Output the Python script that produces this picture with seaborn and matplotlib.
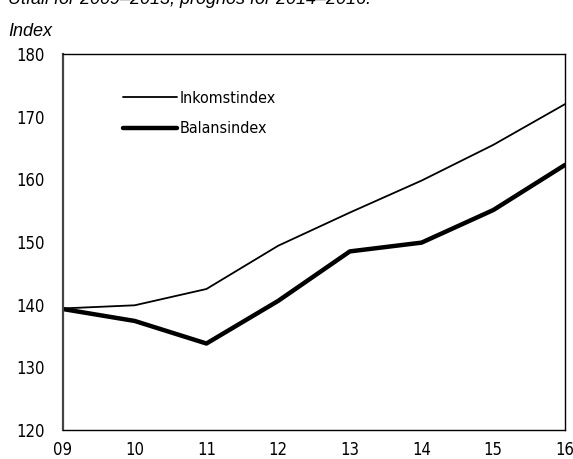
import matplotlib
matplotlib.use("Agg")
import matplotlib.pyplot as plt
import seaborn as sns
import pandas as pd

years = [2009, 2010, 2011, 2012, 2013, 2014, 2015, 2016]
tick_labels = ["09", "10", "11", "12", "13", "14", "15", "16"]
inkomstindex = [139.4, 139.9, 142.5, 149.4, 154.7, 159.8, 165.5, 172.0]
balansindex = [139.3, 137.4, 133.8, 140.6, 148.5, 149.9, 155.1, 162.3]

sns.set_style("white")
plt.rcParams["font.family"] = ["DejaVu Sans"]
plt.rcParams["font.stretch"] = "condensed"
plt.rcParams["text.color"] = "black"
plt.rcParams["xtick.color"] = "black"
plt.rcParams["ytick.color"] = "black"

df = pd.DataFrame({"year": years, "Inkomstindex": inkomstindex, "Balansindex": balansindex})

fig = plt.figure(figsize=(5.73, 4.59), dpi=100)
ax = fig.add_axes([63 / 573, 1 - 430 / 459, 502 / 573, 376 / 459])

sns.lineplot(data=df, x="year", y="Inkomstindex", ax=ax, color="black", lw=1.3, label="Inkomstindex")
sns.lineplot(data=df, x="year", y="Balansindex", ax=ax, color="black", lw=3.2, label="Balansindex")

ax.set_xlim(2009, 2016)
ax.set_ylim(120, 180)
ax.set_xticks(years)
ax.set_xticklabels(tick_labels)
ax.set_yticks(range(120, 181, 10))
ax.set_xlabel("")
ax.set_ylabel("")
for s in ax.spines.values():
    s.set_color("black")
    s.set_linewidth(1.0)
ax.spines["left"].set_color("#444444")
ax.spines["left"].set_linewidth(1.6)
ax.tick_params(axis="y", direction="in", length=5, width=1, labelsize=12, pad=13)
ax.tick_params(axis="x", direction="inout", length=10, width=1, labelsize=12, pad=3)

leg = ax.legend(loc="upper left", bbox_to_anchor=(0.09, 0.94), frameon=False,
                handlelength=3.4, handletextpad=0.2, labelspacing=0.95, fontsize=11.5)

fig.text(8 / 573, 1.0, "Utfall för 2009–2013, prognos för 2014–2016.", fontsize=13,
         style="italic", family=["Liberation Sans", "DejaVu Sans"], stretch="normal",
         va="center", ha="left")
fig.text(8 / 573, 1 - 32 / 459, "Index", fontsize=13, style="italic",
         family=["Liberation Sans", "DejaVu Sans"], stretch="normal", va="center", ha="left")

fig.savefig("out.png", dpi=100)
